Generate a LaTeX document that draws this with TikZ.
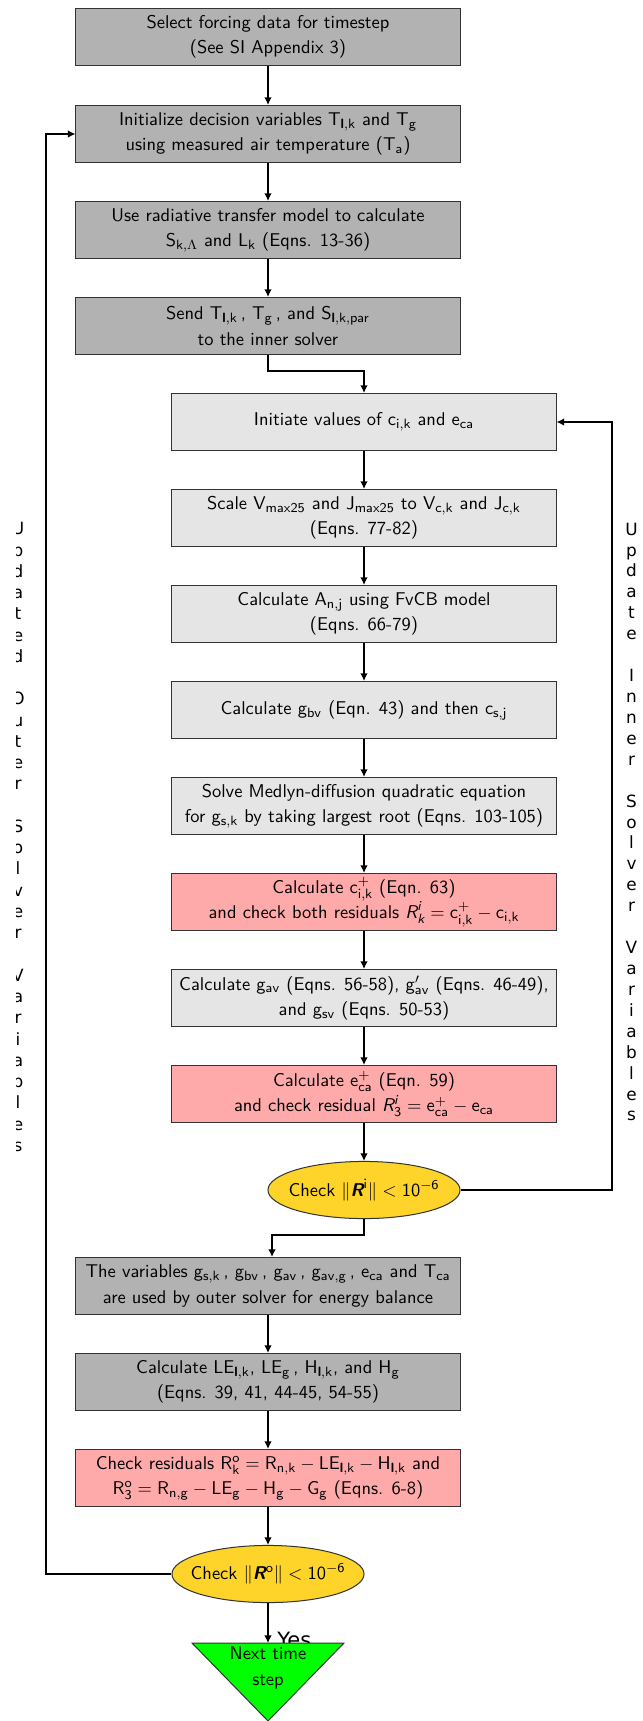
\documentclass[tikz,border=0pt]{standalone}
\usepackage{amsmath}
\usepackage[no-math]{fontspec}
\newfontfamily\dejavu{DejaVu Sans}
\usetikzlibrary{shapes.geometric,arrows.meta,calc}
\definecolor{gold}{RGB}{255,212,42}
\definecolor{boxpink}{RGB}{255,170,170}
\newcommand{\ms}[1]{\mathsf{#1}}
\newcommand{\bfl}{\text{\sffamily\bfseries l}}
\newcommand{\bRit}{\text{\sffamily\bfseries\itshape R}}
\newcommand{\sfi}[1]{\text{\sffamily\itshape #1}}
\newcommand{\vstack}[2]{\parbox{2em}{\centering\baselineskip=#1\lineskiplimit=-100pt\lineskip=0pt #2}}
\tikzset{
  box/.style={draw=black!80, line width=0.6pt, minimum width=8cm, minimum height=1.19cm,
    align=center, inner sep=2pt, font=\sffamily\fontsize{10.95}{15}\selectfont},
  darkbox/.style={box, fill=black!30},
  lightbox/.style={box, fill=black!10},
  pinkbox/.style={box, fill=boxpink},
  checknode/.style={ellipse, draw=black!80, line width=0.6pt, fill=gold, minimum width=4cm,
    minimum height=1.19cm, inner sep=0pt, font=\sffamily\fontsize{10.95}{15}\selectfont},
  arr/.style={-{Latex[length=4.5pt,width=4.5pt]}, line width=0.8pt},
  vlab/.style={inner sep=0pt, font=\dejavu\fontsize{10}{12}\selectfont},
}
\begin{document}
\begin{tikzpicture}[x=0.0208333cm,y=-0.0208333cm]
\useasboundingbox (0,0) rectangle (643,1721);
% outer boxes
\node[darkbox] (b1) at (268,37) {Select forcing data for timestep\\(See SI Appendix 3)};
\node[darkbox] (b2) at (268,134) {Initialize decision variables $\ms{T}_{\bfl,\ms{k}}$ and $\ms{T}_{\ms{g}}$\\using measured air temperature ($\ms{T}_{\ms{a}}$)};
\node[darkbox] (b3) at (268,230) {Use radiative transfer model to calculate\\$\ms{S}_{\ms{k},\Lambda}$ and $\ms{L}_{\ms{k}}$ (Eqns. 13-36)};
\node[darkbox] (b4) at (268,326) {Send $\ms{T}_{\bfl,\ms{k}}$\,, $\ms{T}_{\ms{g}}$\,, and $\ms{S}_{\bfl,\ms{k,par}}$\\to the inner solver};
% inner boxes
\node[lightbox] (b5) at (364,422) {Initiate values of $\ms{c}_{\ms{i,k}}$ and $\ms{e}_{\ms{ca}}$};
\node[lightbox] (b6) at (364,518) {Scale $\ms{V}_{\ms{max25}}$ and $\ms{J}_{\ms{max25}}$ to $\ms{V}_{\ms{c,k}}$ and $\ms{J}_{\ms{c,k}}$\\(Eqns. 77-82)};
\node[lightbox] (b7) at (364,614) {Calculate $\ms{A}_{\ms{n,j}}$ using FvCB model\\(Eqns. 66-79)};
\node[lightbox] (b8) at (364,710) {Calculate $\ms{g}_{\ms{bv}}$ (Eqn. 43) and then $\ms{c}_{\ms{s,j}}$};
\node[lightbox] (b9) at (364,806) {Solve Medlyn-diffusion quadratic equation\\for $\ms{g}_{\ms{s,k}}$ by taking largest root (Eqns. 103-105)};
\node[pinkbox] (b10) at (364,902) {Calculate $\ms{c}^{+}_{\ms{i,k}}$ (Eqn. 63)\\and check both residuals $\sfi{R}^{\sfi{i}}_{\sfi{k}} = \ms{c}^{+}_{\ms{i,k}} - \ms{c}_{\ms{i,k}}$};
\node[lightbox] (b11) at (364,998) {Calculate $\ms{g}_{\ms{av}}$ (Eqns. 56-58), $\ms{g}'_{\ms{av}}$ (Eqns. 46-49),\\and $\ms{g}_{\ms{sv}}$ (Eqns. 50-53)};
\node[pinkbox] (b12) at (364,1094) {Calculate $\ms{e}^{+}_{\ms{ca}}$ (Eqn. 59)\\and check residual $\sfi{R}^{\sfi{i}}_{\ms{3}} = \ms{e}^{+}_{\ms{ca}} - \ms{e}_{\ms{ca}}$};
\node[checknode] (e1) at (364,1190) {\makebox[0pt]{Check $\|\bRit^{\ms{i}}\| < \ms{10}^{-\ms{6}}$}};
% outer solver
\node[darkbox] (b13) at (268,1286) {The variables $\ms{g}_{\ms{s,k}}$\,, $\ms{g}_{\ms{bv}}$\,, $\ms{g}_{\ms{av}}$\,, $\ms{g}_{\ms{av,g}}$\,, $\ms{e}_{\ms{ca}}$ and $\ms{T}_{\ms{ca}}$\\are used by outer solver for energy balance};
\node[darkbox] (b14) at (268,1382) {Calculate $\ms{LE}_{\bfl,\ms{k}}$, $\ms{LE}_{\ms{g}}$\,, $\ms{H}_{\bfl,\ms{k}}$, and $\ms{H}_{\ms{g}}$\\(Eqns. 39, 41, 44-45, 54-55)};
\node[pinkbox] (b15) at (268,1478) {Check residuals $\ms{R}^{\ms{o}}_{\ms{k}} = \ms{R}_{\ms{n,k}} - \ms{LE}_{\bfl,\ms{k}} - \ms{H}_{\bfl,\ms{k}}$ and\\$\ms{R}^{\ms{o}}_{\ms{3}} = \ms{R}_{\ms{n,g}} - \ms{LE}_{\ms{g}} - \ms{H}_{\ms{g}} - \ms{G}_{\ms{g}}$ (Eqns. 6-8)};
\node[checknode] (e2) at (268,1574) {\makebox[0pt]{Check $\|\bRit^{\ms{o}}\| < \ms{10}^{-\ms{6}}$}};
% Yes label (drawn below the triangle)
\node[anchor=base west, inner sep=0pt, font=\dejavu\fontsize{12.5}{14}\selectfont] (yes) at (277,1647) {Yes};
% terminal triangle
\coordinate (tl) at (192,1643);
\coordinate (tr) at (344,1643);
\coordinate (tb) at (268,1721);
\coordinate (ttop) at (268,1643);
\filldraw[fill={rgb,255:red,0;green,255;blue,0}, draw=black!80, line width=0.6pt] (tl) -- (tr) -- (tb) -- cycle;
\node[align=center, inner sep=0pt, font=\sffamily\fontsize{10.95}{15}\selectfont] (next) at (268,1668) {Next time\\step};
% connectors
\draw[arr] (b1) -- (b2);
\draw[arr] (b2) -- (b3);
\draw[arr] (b3) -- (b4);
\draw[arr] (b4.south) -- ++(0,16) -| (b5.north);
\draw[arr] (b5) -- (b6);
\draw[arr] (b6) -- (b7);
\draw[arr] (b7) -- (b8);
\draw[arr] (b8) -- (b9);
\draw[arr] (b9) -- (b10);
\draw[arr] (b10) -- (b11);
\draw[arr] (b11) -- (b12);
\draw[arr] (b12) -- (e1);
\draw[arr] (e1.south) -- ++(0,16) -| ($(b13.north)+(4,0)$);
\draw[arr] (b13) -- (b14);
\draw[arr] (b14) -- (b15);
\draw[arr] (b15) -- (e2);
\draw[arr] (e2.south) -- (ttop);
\coordinate (rloop) at (612,0);
\coordinate (lloop) at (46,0);
\draw[arr] (e1.east) -- (e1.east -| rloop) |- (b5.east);
\draw[arr] (e2.west) -- (e2.west -| lloop) |- (b2.west);
% side labels
\node[vlab] (innerlbl) at (631.5,822) {\vstack{12.4pt}{U\\p\\d\\a\\t\\e\\\mbox{}\\I\\n\\n\\e\\r\\\mbox{}\\S\\o\\l\\v\\e\\r\\\mbox{}\\V\\a\\r\\i\\a\\b\\l\\e\\s}};
\begin{scope}
\clip (16,0) rectangle (40,1721);
\node[vlab] (outerlbl) at (18,837) {\vstack{12.6pt}{U\\p\\d\\a\\t\\e\\d\\\mbox{}\\O\\u\\t\\e\\r\\\mbox{}\\S\\o\\l\\v\\e\\r\\\mbox{}\\V\\a\\r\\i\\a\\b\\l\\e\\s}};
\end{scope}
\end{tikzpicture}
\end{document}
